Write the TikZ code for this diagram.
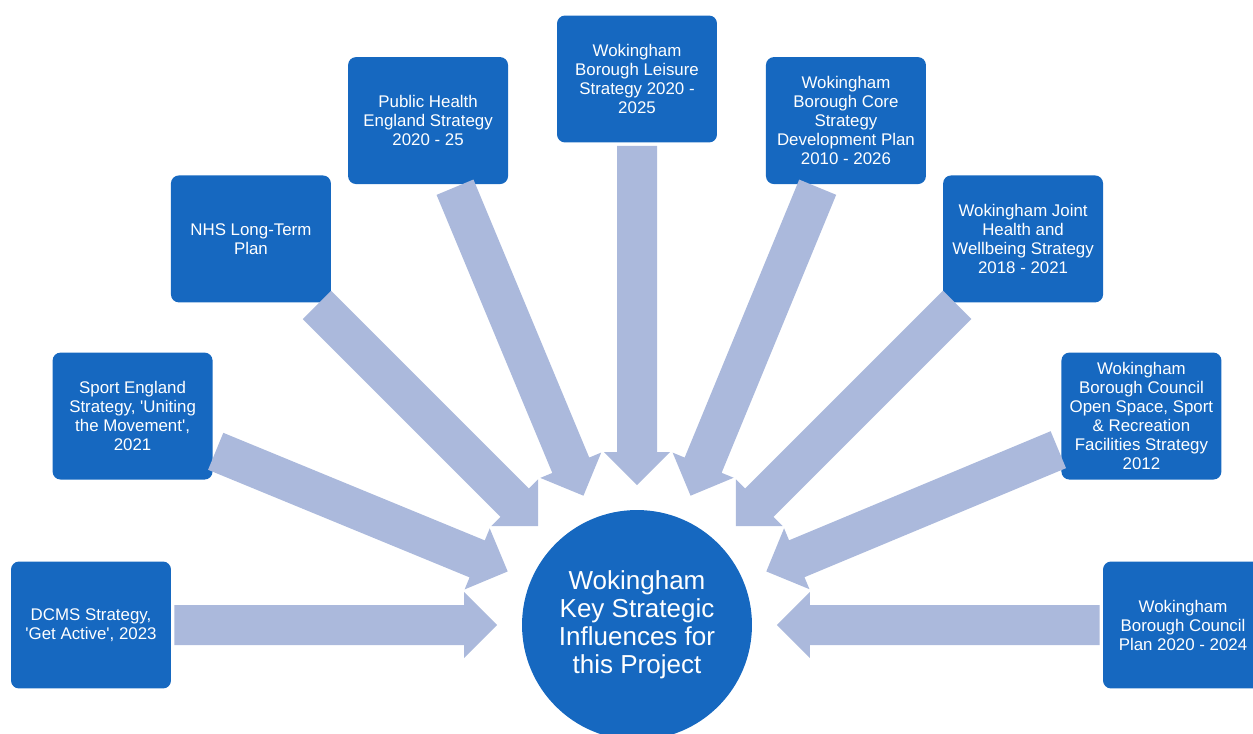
\documentclass[tikz,border=0pt]{standalone}
\usepackage{fontspec}
\setmainfont{Liberation Sans}
\usetikzlibrary{calc}
\definecolor{boxblue}{RGB}{22,104,192}
\definecolor{arrowc}{RGB}{171,185,220}
\newcommand{\sq}{\textquotesingle}
\tikzset{
  box/.style={fill=boxblue, rounded corners=0.16cm, minimum width=3.2cm, minimum height=2.54cm,
    inner sep=0pt, text=white, align=center, font=\fontsize{9.6}{10.8}\selectfont},
  hubstyle/.style={circle, fill=boxblue, minimum size=4.6cm, inner sep=0pt, text=white,
    align=center, font=\fontsize{14.8}{15.9}\selectfont},
  blockarrow/.style={fill=arrowc}
}
\begin{document}
\begin{tikzpicture}[x=0.02cm,y=0.02cm]
\useasboundingbox (0,0) rectangle (1253,-733);
\clip (0,0) rectangle (1253,-733);
\node[hubstyle] (hub) at (637,-625) {Wokingham\\Key Strategic\\Influences for\\this Project};
\node[box] (b1) at ($(hub.center)+(180:546)$) {DCMS Strategy,\\\sq Get Active\sq, 2023};
\node[box] (b2) at ($(hub.center)+(157.5:546)$) {Sport England\\Strategy, \sq Uniting\\the Movement\sq,\\2021};
\node[box] (b3) at ($(hub.center)+(135:546)$) {NHS Long-Term\\Plan};
\node[box] (b4) at ($(hub.center)+(112.5:546)$) {Public Health\\England Strategy\\2020 - 25};
\node[box] (b5) at ($(hub.center)+(90:546)$) {Wokingham\\Borough Leisure\\Strategy 2020 -\\2025};
\node[box] (b6) at ($(hub.center)+(67.5:546)$) {Wokingham\\Borough Core\\Strategy\\Development Plan\\2010 - 2026};
\node[box] (b7) at ($(hub.center)+(45:546)$) {Wokingham Joint\\Health and\\Wellbeing Strategy\\2018 - 2021};
\node[box] (b8) at ($(hub.center)+(22.5:546)$) {Wokingham\\Borough Council\\Open Space, Sport\\\& Recreation\\Facilities Strategy\\2012};
\node[box] (b9) at ($(hub.center)+(0:546)$) {Wokingham\\Borough Council\\Plan 2020 - 2024};
\foreach \n/\a in {b1/180,b2/157.5,b3/135,b4/112.5,b5/90,b6/67.5,b7/45,b8/22.5,b9/0}{
  \pgfmathsetmacro\d{\a+180}
  \coordinate (P) at ($(hub.center)!2.8cm!(\n.center)$);
  \coordinate (T) at ($(\n.\d)!0.06cm!(hub.center)$);
  \coordinate (H) at ($(P)!0.66cm!(T)$);
  \fill[blockarrow] ($(T)!0.4cm!90:(P)$) -- ($(H)!0.4cm!-90:(T)$) -- ($(H)!0.66cm!-90:(T)$)
    -- (P) -- ($(H)!0.66cm!90:(T)$) -- ($(H)!0.4cm!90:(T)$) -- ($(T)!0.4cm!-90:(P)$) -- cycle;
}
\end{tikzpicture}
\end{document}
